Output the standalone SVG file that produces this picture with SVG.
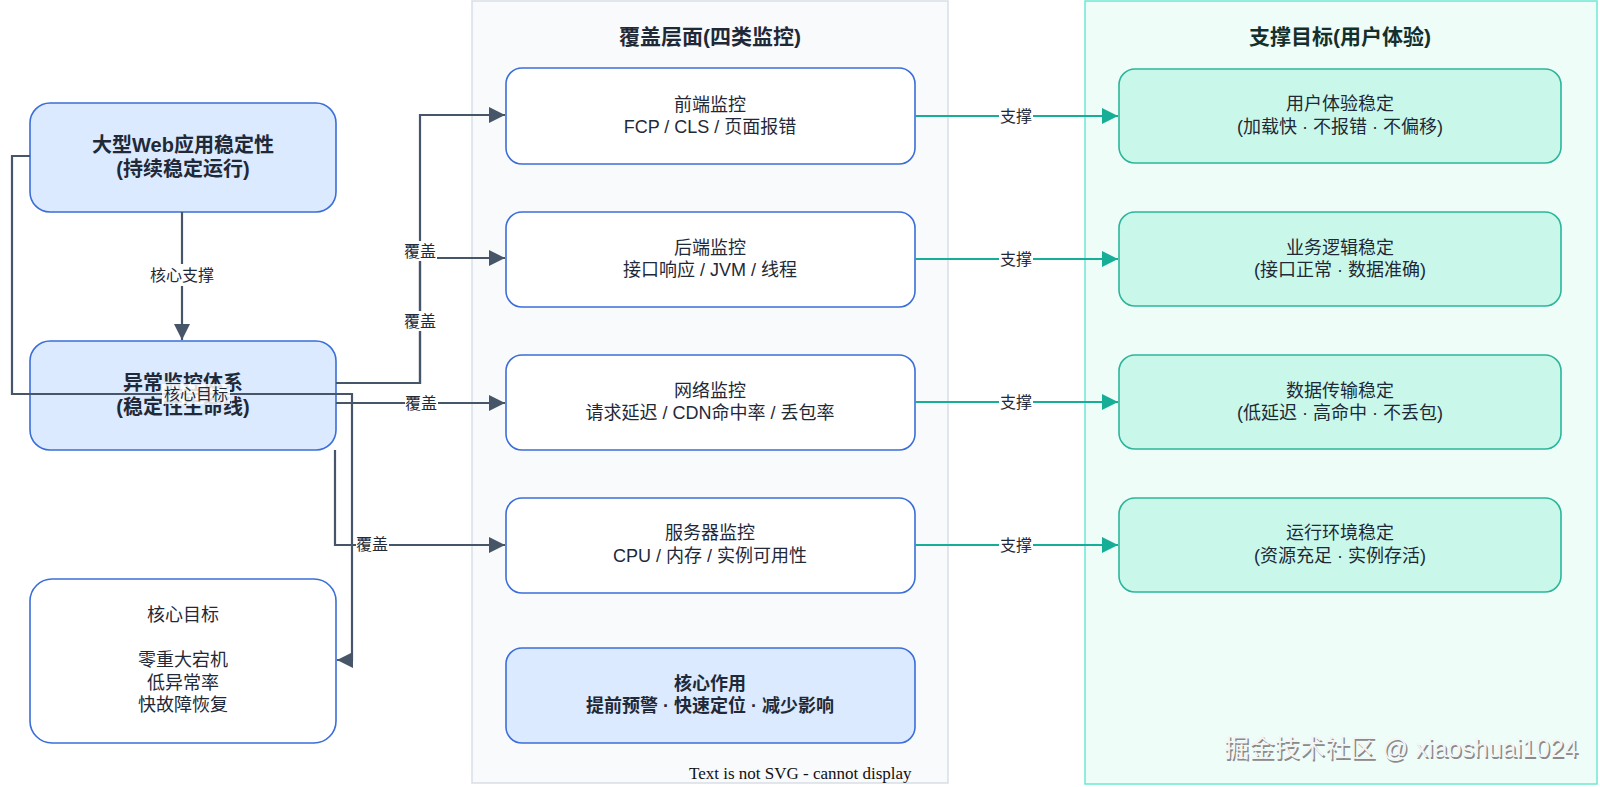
<svg xmlns="http://www.w3.org/2000/svg" width="1600" height="787" viewBox="0 0 1600 787">
<style>
.t{font-family:"Liberation Sans","Noto Sans CJK SC",sans-serif;fill:#1f2937;text-anchor:middle;dominant-baseline:central}
.n{font-size:18px}
.b{font-size:20px;font-weight:bold}
.bt{font-size:18px;font-weight:bold}
.h{font-size:21px;font-weight:bold}
.lb{font-size:16px}
.blue{fill:#dbeafe;stroke:#3b6ed8;stroke-width:1.6}
.white{fill:#ffffff;stroke:#3b6ed8;stroke-width:1.6}
.green{fill:#c9f8ea;stroke:#2cb59b;stroke-width:1.6}
.e{fill:none;stroke:#475569;stroke-width:2.2}
.g{fill:none;stroke:#17ae98;stroke-width:2.2}
.lbg{fill:#ffffff}
</style>
<defs>
<marker id="ad" markerUnits="userSpaceOnUse" markerWidth="17" markerHeight="16" refX="16" refY="8" orient="auto"><path d="M0,0 L16,8 L0,16 z" fill="#475569"/></marker>
<marker id="ag" markerUnits="userSpaceOnUse" markerWidth="17" markerHeight="16" refX="16" refY="8" orient="auto"><path d="M0,0 L16,8 L0,16 z" fill="#17ae98"/></marker>
</defs>
<rect width="1600" height="787" fill="#ffffff"/>

<g id="container-coverage">
<rect x="472" y="1" width="476" height="782" fill="#f8fafc" stroke="#d9dee7" stroke-width="1.5"/>
<text class="t h" x="710" y="36">覆盖层面(四类监控)</text>
</g>
<g id="container-targets">
<rect x="1085" y="1" width="512" height="783" fill="#effdf9" stroke="#6ee7d3" stroke-width="1.5"/>
<text class="t h" x="1340" y="36" style="fill:#14302c">支撑目标(用户体验)</text>
</g>

<g id="node-web">
<rect class="blue" x="30" y="103" width="306" height="109" rx="20"/>
<text class="t b" x="183" y="145">大型Web应用稳定性</text>
<text class="t b" x="183" y="169">(持续稳定运行)</text>
</g>
<g id="node-monitor">
<rect class="blue" x="30" y="341" width="306" height="109" rx="20"/>
<text class="t b" x="183" y="383">异常监控体系</text>
<text class="t b" x="183" y="407">(稳定性生命线)</text>
</g>
<g id="node-goal">
<rect class="white" x="30" y="579" width="306" height="164" rx="22"/>
<text class="t n" x="183" y="615">核心目标</text>
<text class="t n" x="183" y="660">零重大宕机</text>
<text class="t n" x="183" y="683">低异常率</text>
<text class="t n" x="183" y="705">快故障恢复</text>
</g>

<g id="node-frontend">
<rect class="white" x="506" y="68" width="409" height="96" rx="16"/>
<text class="t n" x="710" y="105">前端监控</text>
<text class="t n" x="710" y="127">FCP / CLS / 页面报错</text>
</g>
<g id="node-backend">
<rect class="white" x="506" y="212" width="409" height="95" rx="16"/>
<text class="t n" x="710" y="248">后端监控</text>
<text class="t n" x="710" y="270">接口响应 / JVM / 线程</text>
</g>
<g id="node-network">
<rect class="white" x="506" y="355" width="409" height="95" rx="16"/>
<text class="t n" x="710" y="391">网络监控</text>
<text class="t n" x="710" y="413">请求延迟 / CDN命中率 / 丢包率</text>
</g>
<g id="node-server">
<rect class="white" x="506" y="498" width="409" height="95" rx="16"/>
<text class="t n" x="710" y="533">服务器监控</text>
<text class="t n" x="710" y="556">CPU / 内存 / 实例可用性</text>
</g>
<g id="node-role">
<rect class="blue" x="506" y="648" width="409" height="95" rx="16"/>
<text class="t bt" x="710" y="684">核心作用</text>
<text class="t bt" x="710" y="706">提前预警 · 快速定位 · 减少影响</text>
</g>
<text x="689" y="779" font-family="Liberation Serif,serif" font-size="17" fill="#111">Text is not SVG - cannot display</text>

<g id="node-ux">
<rect class="green" x="1119" y="69" width="442" height="94" rx="16"/>
<text class="t n" x="1340" y="104">用户体验稳定</text>
<text class="t n" x="1340" y="127">(加载快 · 不报错 · 不偏移)</text>
</g>
<g id="node-biz">
<rect class="green" x="1119" y="212" width="442" height="94" rx="16"/>
<text class="t n" x="1340" y="248">业务逻辑稳定</text>
<text class="t n" x="1340" y="270">(接口正常 · 数据准确)</text>
</g>
<g id="node-data">
<rect class="green" x="1119" y="355" width="442" height="94" rx="16"/>
<text class="t n" x="1340" y="391">数据传输稳定</text>
<text class="t n" x="1340" y="413">(低延迟 · 高命中 · 不丢包)</text>
</g>
<g id="node-env">
<rect class="green" x="1119" y="498" width="442" height="94" rx="16"/>
<text class="t n" x="1340" y="533">运行环境稳定</text>
<text class="t n" x="1340" y="556">(资源充足 · 实例存活)</text>
</g>

<g id="connectors">
<path class="e" d="M182,212 V340" marker-end="url(#ad)"/>
<path class="e" d="M30,156 H12 V394 H352 V660 H337" marker-end="url(#ad)"/>
<path class="e" d="M336,383 H420 V115 H505" marker-end="url(#ad)"/>
<path class="e" d="M336,383 H420 V258 H505" marker-end="url(#ad)"/>
<path class="e" d="M336,403 H505" marker-end="url(#ad)"/>
<path class="e" d="M335,450 V545 H505" marker-end="url(#ad)"/>
<path class="g" d="M915,116 H1118" marker-end="url(#ag)"/>
<path class="g" d="M915,259 H1118" marker-end="url(#ag)"/>
<path class="g" d="M915,402 H1118" marker-end="url(#ag)"/>
<path class="g" d="M915,545 H1118" marker-end="url(#ag)"/>

<rect class="lbg" x="148" y="264" width="68" height="22"/>
<text class="t lb" x="182" y="275">核心支撑</text>
<rect x="162" y="384" width="68" height="20" fill="#ffffff" opacity="0.85"/>
<text class="t lb" x="196" y="394">核心目标</text>
<rect class="lbg" x="404" y="241" width="33" height="20"/>
<text class="t lb" x="420" y="251">覆盖</text>
<rect class="lbg" x="404" y="311" width="33" height="20"/>
<text class="t lb" x="420" y="321">覆盖</text>
<rect class="lbg" x="405" y="393" width="33" height="20"/>
<text class="t lb" x="421" y="403">覆盖</text>
<rect class="lbg" x="356" y="534" width="33" height="20"/>
<text class="t lb" x="372" y="544">覆盖</text>
<rect class="lbg" x="999" y="106" width="34" height="20"/>
<text class="t lb" x="1016" y="116">支撑</text>
<rect class="lbg" x="999" y="249" width="34" height="20"/>
<text class="t lb" x="1016" y="259">支撑</text>
<rect class="lbg" x="999" y="392" width="34" height="20"/>
<text class="t lb" x="1016" y="402">支撑</text>
<rect class="lbg" x="999" y="535" width="34" height="20"/>
<text class="t lb" x="1016" y="545">支撑</text>
</g>

<g id="watermark" font-family="Liberation Sans,Noto Sans CJK SC,sans-serif" font-size="25">
<text x="1225.5" y="758.5" fill="#8a8a8a" textLength="354" lengthAdjust="spacingAndGlyphs">掘金技术社区 @ xiaoshuai1024</text>
<text x="1224" y="757" fill="#f4f4f4" textLength="354" lengthAdjust="spacingAndGlyphs">掘金技术社区 @ xiaoshuai1024</text>
</g>
</svg>
